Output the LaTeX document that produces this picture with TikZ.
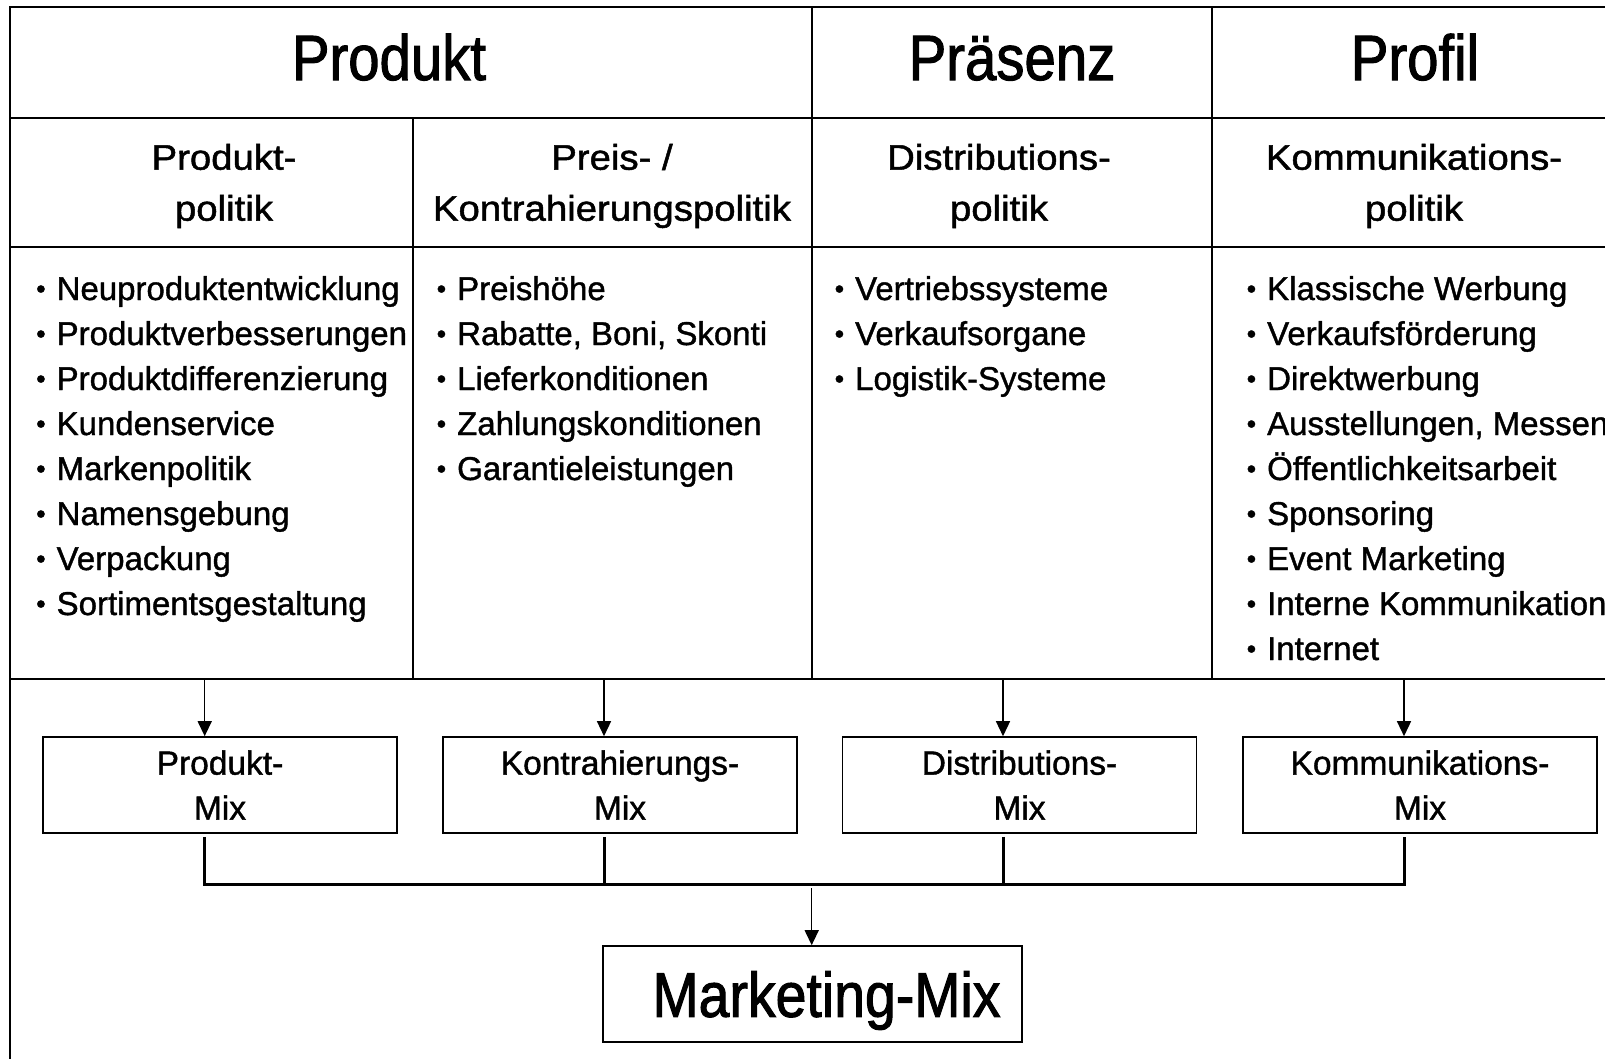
\documentclass[tikz,border=0pt]{standalone}
\usepackage{fontspec}
\setmainfont{Liberation Sans}[FakeBold=1.2]
\newfontfamily\narrowfont[FakeStretch=0.88,FakeBold=1.6]{Liberation Sans}
\newfontfamily\widefont[FakeStretch=1.08,FakeBold=1.4]{Liberation Sans}
\usetikzlibrary{arrows.meta}

\newcommand\dotmark{\raisebox{2pt}{\fontsize{27}{27}\selectfont •}\hspace{11pt}}

\tikzset{
	tablerule/.style={line width=2pt},
	headtext/.style={font=\narrowfont\fontsize{64}{70}\selectfont, anchor=base, inner sep=0pt},
	subtext/.style={font=\widefont\fontsize{35.5}{51}\selectfont, align=center, inner sep=0pt},
	itemtext/.style={font=\fontsize{33}{45}\selectfont, anchor=base west, inner sep=0pt},
	mixbox/.style={draw, line width=1.6pt, minimum width=354pt, minimum height=96pt, inner sep=0pt, align=center, font=\fontsize{33.5}{45}\selectfont},
	feedarrow/.style={-{Triangle[length=15pt,width=14pt]}, line width=1.4pt},
	collectline/.style={line width=3pt}
}

\begin{document}
\begin{tikzpicture}[x=1pt,y=-1pt]
	\useasboundingbox (0,0) rectangle (1605,1058);
	
	% table grid
	\draw[tablerule] (10,7) rectangle (1620,1070);
	\draw[tablerule] (10,118) -- (1620,118);
	\draw[tablerule] (10,247) -- (1620,247);
	\draw[tablerule] (10,679) -- (1620,679);
	\draw[tablerule] (412.5,118) -- (412.5,679);
	\draw[tablerule] (811.7,7) -- (811.7,679);
	\draw[tablerule] (1212,7) -- (1212,679);
	
	\node[headtext] (hProdukt) at (389,80) {Produkt};
	\node[headtext] (hPraesenz) at (1012,80) {Präsenz};
	\node[headtext] (hProfil) at (1415,80) {Profil};
	
	\node[subtext] (sProdukt) at (224,186) {Produkt-\\politik};
	\node[subtext] (sPreis) at (612,186) {Preis- /\\Kontrahierungspolitik};
	\node[subtext] (sDistri) at (999,186) {Distributions-\\politik};
	\node[subtext] (sKommu) at (1414,186) {Kommunikations-\\politik};
	
	% instrument lists
	\begin{scope}[every node/.style={itemtext}]
		\foreach \txt [count=\i] in {Neuproduktentwicklung, Produktverbesserungen, Produktdifferenzierung, Kundenservice, Markenpolitik, Namensgebung, Verpackung, Sortimentsgestaltung}
			\node (lProdukt\i) at (36,{255+45*\i}) {\dotmark\txt};
		\foreach \txt [count=\i] in {Preishöhe, {Rabatte, Boni, Skonti}, Lieferkonditionen, Zahlungskonditionen, Garantieleistungen}
			\node (lPreis\i) at (436.5,{255+45*\i}) {\dotmark\txt};
		\foreach \txt [count=\i] in {Vertriebssysteme, Verkaufsorgane, Logistik-Systeme}
			\node (lDistri\i) at (834.5,{255+45*\i}) {\dotmark\txt};
		\foreach \txt [count=\i] in {Klassische Werbung, Verkaufsförderung, Direktwerbung, {Ausstellungen, Messen}, Öffentlichkeitsarbeit, Sponsoring, Event Marketing, Interne Kommunikation, Internet}
			\node (lKommu\i) at (1246.5,{255+45*\i}) {\dotmark\txt};
	\end{scope}
	
	\node[mixbox] (mProdukt) at (220,785) {Produkt-\\Mix};
	\node[mixbox] (mKontra) at (620,785) {Kontrahierungs-\\Mix};
	\node[mixbox] (mDistri) at (1019.5,785) {Distributions-\\Mix};
	\node[mixbox] (mKommu) at (1420,785) {Kommunikations-\\Mix};
	
	\node[draw, line width=1.6pt, minimum width=419pt, minimum height=96pt, inner sep=0pt, text depth=0pt, font=\narrowfont\fontsize{63}{63}\selectfont] (mMarketing) at (812.5,994) {\hspace*{28pt}Marketing-Mix};
	
	\coordinate (fProdukt) at (204.7,679);
	\coordinate (fKontra) at (604,679);
	\coordinate (fDistri) at (1003,679);
	\coordinate (fKommu) at (1404,679);
	\coordinate (bus) at (0,884);
	\coordinate (busHub) at (811.7,888);
	
	\draw[feedarrow] (fProdukt) -- (fProdukt |- mProdukt.north);
	\draw[feedarrow] (fKontra) -- (fKontra |- mKontra.north);
	\draw[feedarrow] (fDistri) -- (fDistri |- mDistri.north);
	\draw[feedarrow] (fKommu) -- (fKommu |- mKommu.north);
	
	% collecting the four mixes
	\draw[collectline] ([yshift=-3pt]fProdukt |- mProdukt.south) -- (fProdukt |- bus) -- (fKommu |- bus) -- ([yshift=-3pt]fKommu |- mKommu.south);
	\draw[collectline] ([yshift=-3pt]fKontra |- mKontra.south) -- (fKontra |- bus);
	\draw[collectline] ([yshift=-3pt]fDistri |- mDistri.south) -- (fDistri |- bus);
	\draw[feedarrow] (busHub) -- (busHub |- mMarketing.north);
\end{tikzpicture}
\end{document}
